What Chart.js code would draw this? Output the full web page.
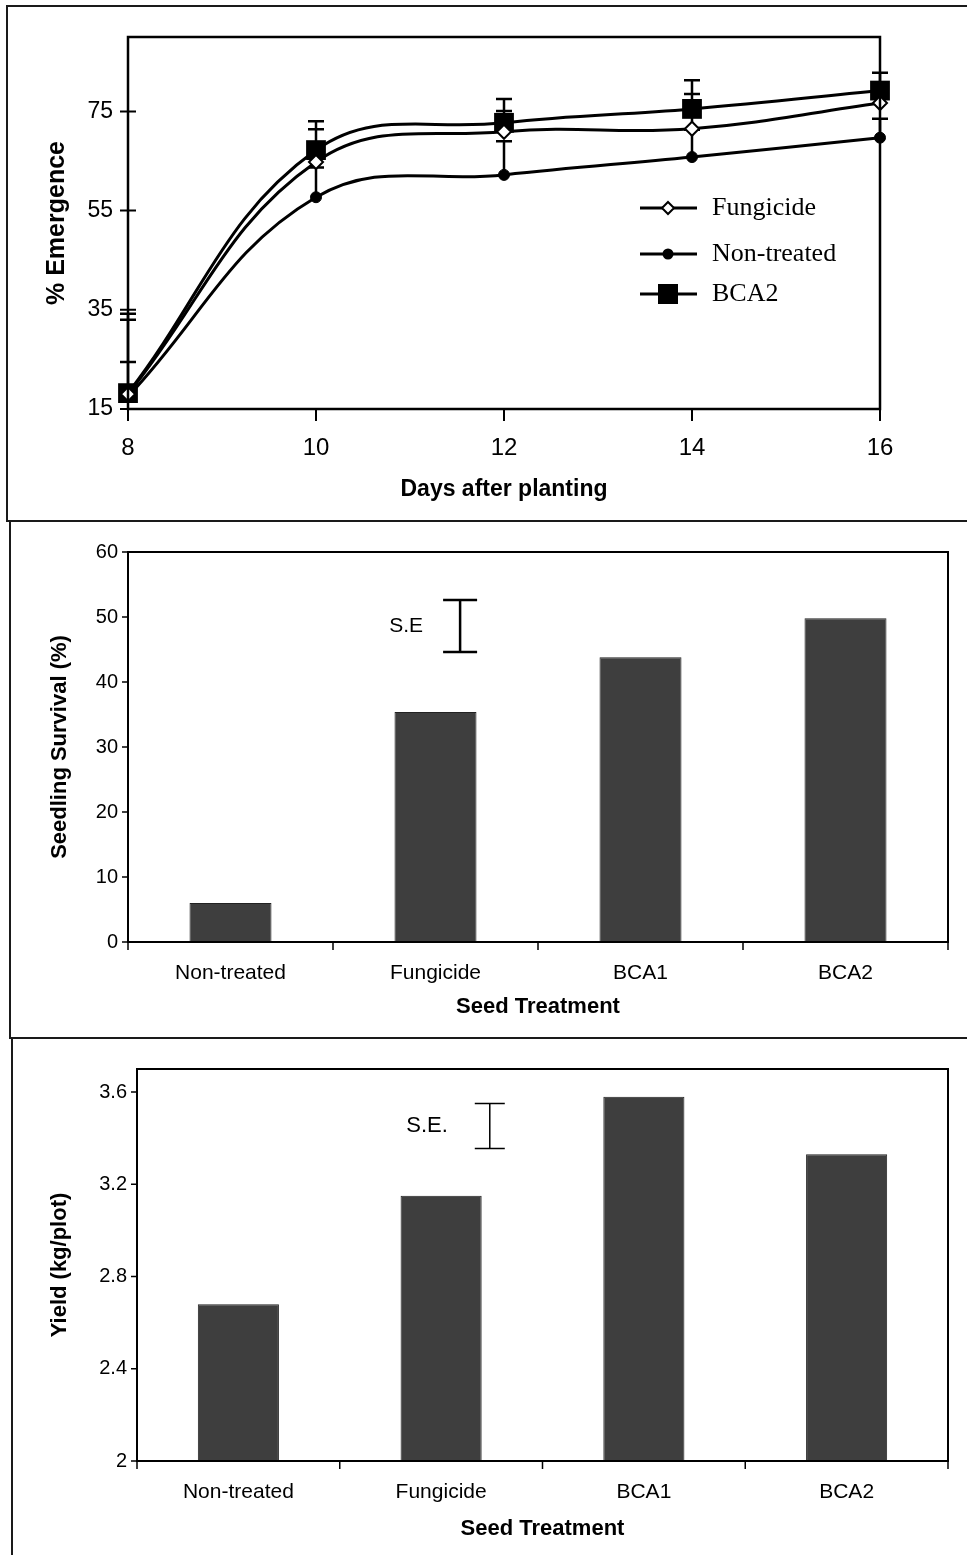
<!DOCTYPE html>
<html>
<head>
<meta charset="utf-8">
<script src="https://cdn.jsdelivr.net/npm/chart.js@4.4.0/dist/chart.umd.min.js"></script>
<style>
  body { margin: 0; background: #fff; }
  #page { position: relative; width: 967px; height: 1555px; overflow: hidden; background: #fff; }
  canvas { position: absolute; left: 0; }
  .rule { position: absolute; background: #1a1a1a; }
</style>
</head>
<body>
<div id="page">
  <canvas id="emergence" width="967" height="520" style="top:0"></canvas>
  <canvas id="survival" width="967" height="516" style="top:522px"></canvas>
  <canvas id="yield" width="967" height="515" style="top:1040px"></canvas>
  <div class="rule" style="left:6px;top:5px;width:961px;height:2px"></div>
  <div class="rule" style="left:6px;top:5px;width:2px;height:517px"></div>
  <div class="rule" style="left:8px;top:520px;width:959px;height:2px"></div>
  <div class="rule" style="left:9px;top:520px;width:2px;height:519px"></div>
  <div class="rule" style="left:10px;top:1037px;width:957px;height:2px"></div>
  <div class="rule" style="left:11px;top:1037px;width:2px;height:518px"></div>
</div>
<script>
// emergence over time (top panel)
const days = [8, 10, 12, 14, 16];
const fungicideEmergence = [18, 64.8, 70.9, 71.5, 76.7];
const nonTreatedEmergence = [17.5, 57.7, 62.2, 65.8, 69.7];
const bca2Emergence = [18.2, 67.2, 72.7, 75.5, 79.2];
const fungicideErr = [15, 6.6, 4.2, 7, 2.5];
const nonTreatedErr = [7, 6, 6.8, 5.5, 3.8];
const bca2Err = [16, 5.8, 4.8, 5.8, 3.6];
const emergenceTicks = [15, 35, 55, 75];

// seedling survival and yield (bar panels)
const treatments = ["Non-treated", "Fungicide", "BCA1", "BCA2"];
const survival = [6, 35.4, 43.8, 49.8];
const survivalSE = [44.6, 52.6];
const yieldKg = [2.68, 3.15, 3.58, 3.33];
const yieldSE = [3.355, 3.55];

Chart.defaults.font.family = "'Liberation Sans', Arial, sans-serif";
Chart.defaults.color = "#000";

const fixBox = (w, h) => (s) => {
  if (w !== undefined) s.width = w;
  if (h !== undefined) s.height = h;
  s.paddingLeft = 0; s.paddingRight = 0; s.paddingTop = 0; s.paddingBottom = 0;
};

// frame around the plot area + tick marks
const axisMarks = {
  id: "axisMarks",
  afterDraw(chart, args, o) {
    const { ctx, chartArea: a, scales: { x, y } } = chart;
    ctx.save();
    ctx.strokeStyle = "#000";
    ctx.lineWidth = o.frame || 2;
    ctx.strokeRect(a.left, a.top, a.right - a.left, a.bottom - a.top);
    ctx.lineWidth = o.tickWidth || 1.5;
    ctx.beginPath();
    y.ticks.forEach((t) => {
      const py = y.getPixelForValue(t.value);
      ctx.moveTo(a.left - o.yOut, py);
      ctx.lineTo(a.left + (o.yIn || 0), py);
    });
    if (o.between) {
      const n = x.ticks.length;
      for (let i = 0; i <= n; i++) {
        const px = x.getPixelForValue(i - 0.5);
        ctx.moveTo(px, a.bottom);
        ctx.lineTo(px, a.bottom + o.xDown);
      }
    } else {
      x.ticks.forEach((t) => {
        const px = x.getPixelForValue(t.value);
        ctx.moveTo(px, a.bottom);
        ctx.lineTo(px, a.bottom + o.xDown);
      });
    }
    ctx.stroke();
    ctx.restore();
  }
};

// upward error bars for the line chart
const errorBars = {
  id: "errorBars",
  beforeDatasetsDraw(chart, args, o) {
    if (!o.errors) return;
    const { ctx, scales: { x, y } } = chart;
    ctx.save();
    ctx.strokeStyle = "#000";
    ctx.lineWidth = 2.5;
    ctx.beginPath();
    chart.data.datasets.forEach((ds, i) => {
      ds.data.forEach((p, j) => {
        const px = x.getPixelForValue(p.x);
        const y0 = y.getPixelForValue(p.y);
        const y1 = y.getPixelForValue(p.y + o.errors[i][j]);
        ctx.moveTo(px, y0); ctx.lineTo(px, y1);
        ctx.moveTo(px - 8, y1); ctx.lineTo(px + 8, y1);
      });
    });
    ctx.stroke();
    ctx.restore();
  }
};

// legend drawn inside the plot area
const insideLegend = {
  id: "insideLegend",
  afterDraw(chart, args, o) {
    if (!o.items) return;
    const { ctx } = chart;
    ctx.save();
    ctx.font = "26px 'Liberation Serif', 'Times New Roman', serif";
    ctx.textBaseline = "middle";
    ctx.fillStyle = "#000";
    o.items.forEach((it, i) => {
      const yy = o.y[i];
      ctx.strokeStyle = "#000";
      ctx.lineWidth = 3;
      ctx.beginPath();
      ctx.moveTo(o.x, yy); ctx.lineTo(o.x + 57, yy);
      ctx.stroke();
      const cx = o.x + 28;
      ctx.beginPath();
      if (it.style === "rectRot") {
        ctx.moveTo(cx, yy - 6); ctx.lineTo(cx + 6, yy); ctx.lineTo(cx, yy + 6); ctx.lineTo(cx - 6, yy); ctx.closePath();
        ctx.fillStyle = "#fff"; ctx.fill(); ctx.lineWidth = 2; ctx.stroke();
      } else if (it.style === "circle") {
        ctx.arc(cx, yy, 5.5, 0, Math.PI * 2);
        ctx.fillStyle = "#000"; ctx.fill();
      } else {
        ctx.fillStyle = "#000"; ctx.fillRect(cx - 10, yy - 10, 20, 20);
      }
      ctx.fillStyle = "#000";
      ctx.fillText(it.label, o.x + 72, yy);
    });
    ctx.restore();
  }
};

// standard error marker on bar panels
const seMarker = {
  id: "seMarker",
  afterDraw(chart, args, o) {
    if (!o.range) return;
    const { ctx, scales: { x, y } } = chart;
    const px = x.getPixelForValue(o.at);
    const lo = y.getPixelForValue(o.range[0]);
    const hi = y.getPixelForValue(o.range[1]);
    ctx.save();
    ctx.strokeStyle = "#000";
    ctx.lineWidth = o.width;
    ctx.beginPath();
    ctx.moveTo(px, lo); ctx.lineTo(px, hi);
    ctx.moveTo(px - o.cap, lo); ctx.lineTo(px + o.cap, lo);
    ctx.moveTo(px - o.cap, hi); ctx.lineTo(px + o.cap, hi);
    ctx.stroke();
    ctx.font = o.font;
    ctx.fillStyle = "#000";
    ctx.textAlign = "right";
    ctx.textBaseline = "middle";
    ctx.fillText(o.label, px - o.gap, (lo + hi) / 2);
    ctx.restore();
  }
};

Chart.register(axisMarks, errorBars, insideLegend, seMarker);

const pts = (ys) => days.map((d, i) => ({ x: d, y: ys[i] }));
const lineBase = { borderColor: "#000", borderWidth: 3, tension: 0.4, pointBorderColor: "#000", clip: false };

new Chart(document.getElementById("emergence"), {
  type: "line",
  data: {
    datasets: [
      { ...lineBase, label: "Fungicide", data: pts(fungicideEmergence), pointStyle: "rectRot", pointRadius: 7, pointBackgroundColor: "#fff", pointBorderWidth: 2 },
      { ...lineBase, label: "Non-treated", data: pts(nonTreatedEmergence), pointStyle: "circle", pointRadius: 5.5, pointBackgroundColor: "#000", pointBorderWidth: 1 },
      { ...lineBase, label: "BCA2", data: pts(bca2Emergence), pointStyle: "rect", pointRadius: 14, pointBackgroundColor: "#000", pointBorderWidth: 0 }
    ]
  },
  options: {
    responsive: false,
    animation: false,
    layout: { padding: { left: 40, right: 87, top: 37, bottom: 13 } },
    scales: {
      x: {
        type: "linear", min: 8, max: 16,
        grid: { display: false, drawTicks: false }, border: { display: false },
        ticks: { stepSize: 2, padding: 25, font: { size: 24 } },
        title: { display: true, text: "Days after planting", font: { size: 23, weight: "bold" }, padding: { top: 4, bottom: 4 } },
        afterFit: fixBox(undefined, 98)
      },
      y: {
        min: 15, max: 90,
        afterBuildTicks: (s) => { s.ticks = emergenceTicks.map((v) => ({ value: v })); },
        grid: { display: false, drawTicks: false }, border: { display: false },
        ticks: { padding: 15, font: { size: 23 } },
        title: { display: true, text: "% Emergence", font: { size: 25, weight: "bold" }, padding: { top: 2, bottom: 4 } },
        afterFit: fixBox(88)
      }
    },
    plugins: {
      legend: { display: false },
      tooltip: { enabled: false },
      axisMarks: { yOut: 8, yIn: 8, xDown: 12, frame: 2.5, tickWidth: 2 },
      errorBars: { errors: [fungicideErr, nonTreatedErr, bca2Err] },
      insideLegend: {
        x: 640, y: [208, 254, 294],
        items: [
          { label: "Fungicide", style: "rectRot" },
          { label: "Non-treated", style: "circle" },
          { label: "BCA2", style: "rect" }
        ]
      }
    }
  }
});

const barOptions = (yOpts, yTitle, yWidth, pad, xHeight, se) => ({
  responsive: false,
  animation: false,
  layout: { padding: pad },
  scales: {
    x: {
      grid: { display: false, drawTicks: false }, border: { display: false },
      ticks: { padding: 19, font: { size: 21 } },
      title: { display: true, text: "Seed Treatment", font: { size: 22, weight: "bold" }, padding: { top: 4, bottom: 4 } },
      afterFit: fixBox(undefined, xHeight)
    },
    y: Object.assign({
      grid: { display: false, drawTicks: false }, border: { display: false },
      title: { display: true, text: yTitle, font: { size: 22, weight: "bold" }, padding: { top: 2, bottom: 4 } },
      afterFit: fixBox(yWidth)
    }, yOpts)
  },
  plugins: {
    legend: { display: false },
    tooltip: { enabled: false },
    axisMarks: { yOut: 6, yIn: 0, xDown: 8, between: true, frame: 2, tickWidth: 1.5 },
    seMarker: se
  }
});

new Chart(document.getElementById("survival"), {
  type: "bar",
  data: {
    labels: treatments,
    datasets: [{ data: survival, backgroundColor: "#3e3e3e", borderColor: "#222", borderWidth: 1, barPercentage: 1, categoryPercentage: 0.4 }]
  },
  options: barOptions(
    { min: 0, max: 60, ticks: { stepSize: 10, padding: 10, font: { size: 20 } } },
    "Seedling Survival (%)", 83,
    { left: 45, right: 19, top: 30, bottom: 14 }, 82,
    { range: survivalSE, at: 1.12, cap: 17, width: 2.5, gap: 37, label: "S.E", font: "21px 'Liberation Sans', Arial, sans-serif" }
  )
});

new Chart(document.getElementById("yield"), {
  type: "bar",
  data: {
    labels: treatments,
    datasets: [{ data: yieldKg, backgroundColor: "#3e3e3e", borderColor: "#222", borderWidth: 1, barPercentage: 1, categoryPercentage: 0.4 }]
  },
  options: barOptions(
    { min: 2, max: 3.7, ticks: { stepSize: 0.4, includeBounds: false, padding: 10, font: { size: 20 },
      callback: (v) => String(Math.round(v * 10) / 10) } },
    "Yield (kg/plot)", 92,
    { left: 45, right: 19, top: 29, bottom: 9 }, 85,
    { range: yieldSE, at: 1.24, cap: 15, width: 1.5, gap: 42, label: "S.E.", font: "22px 'Liberation Sans', Arial, sans-serif" }
  )
});
</script>
</body>
</html>
